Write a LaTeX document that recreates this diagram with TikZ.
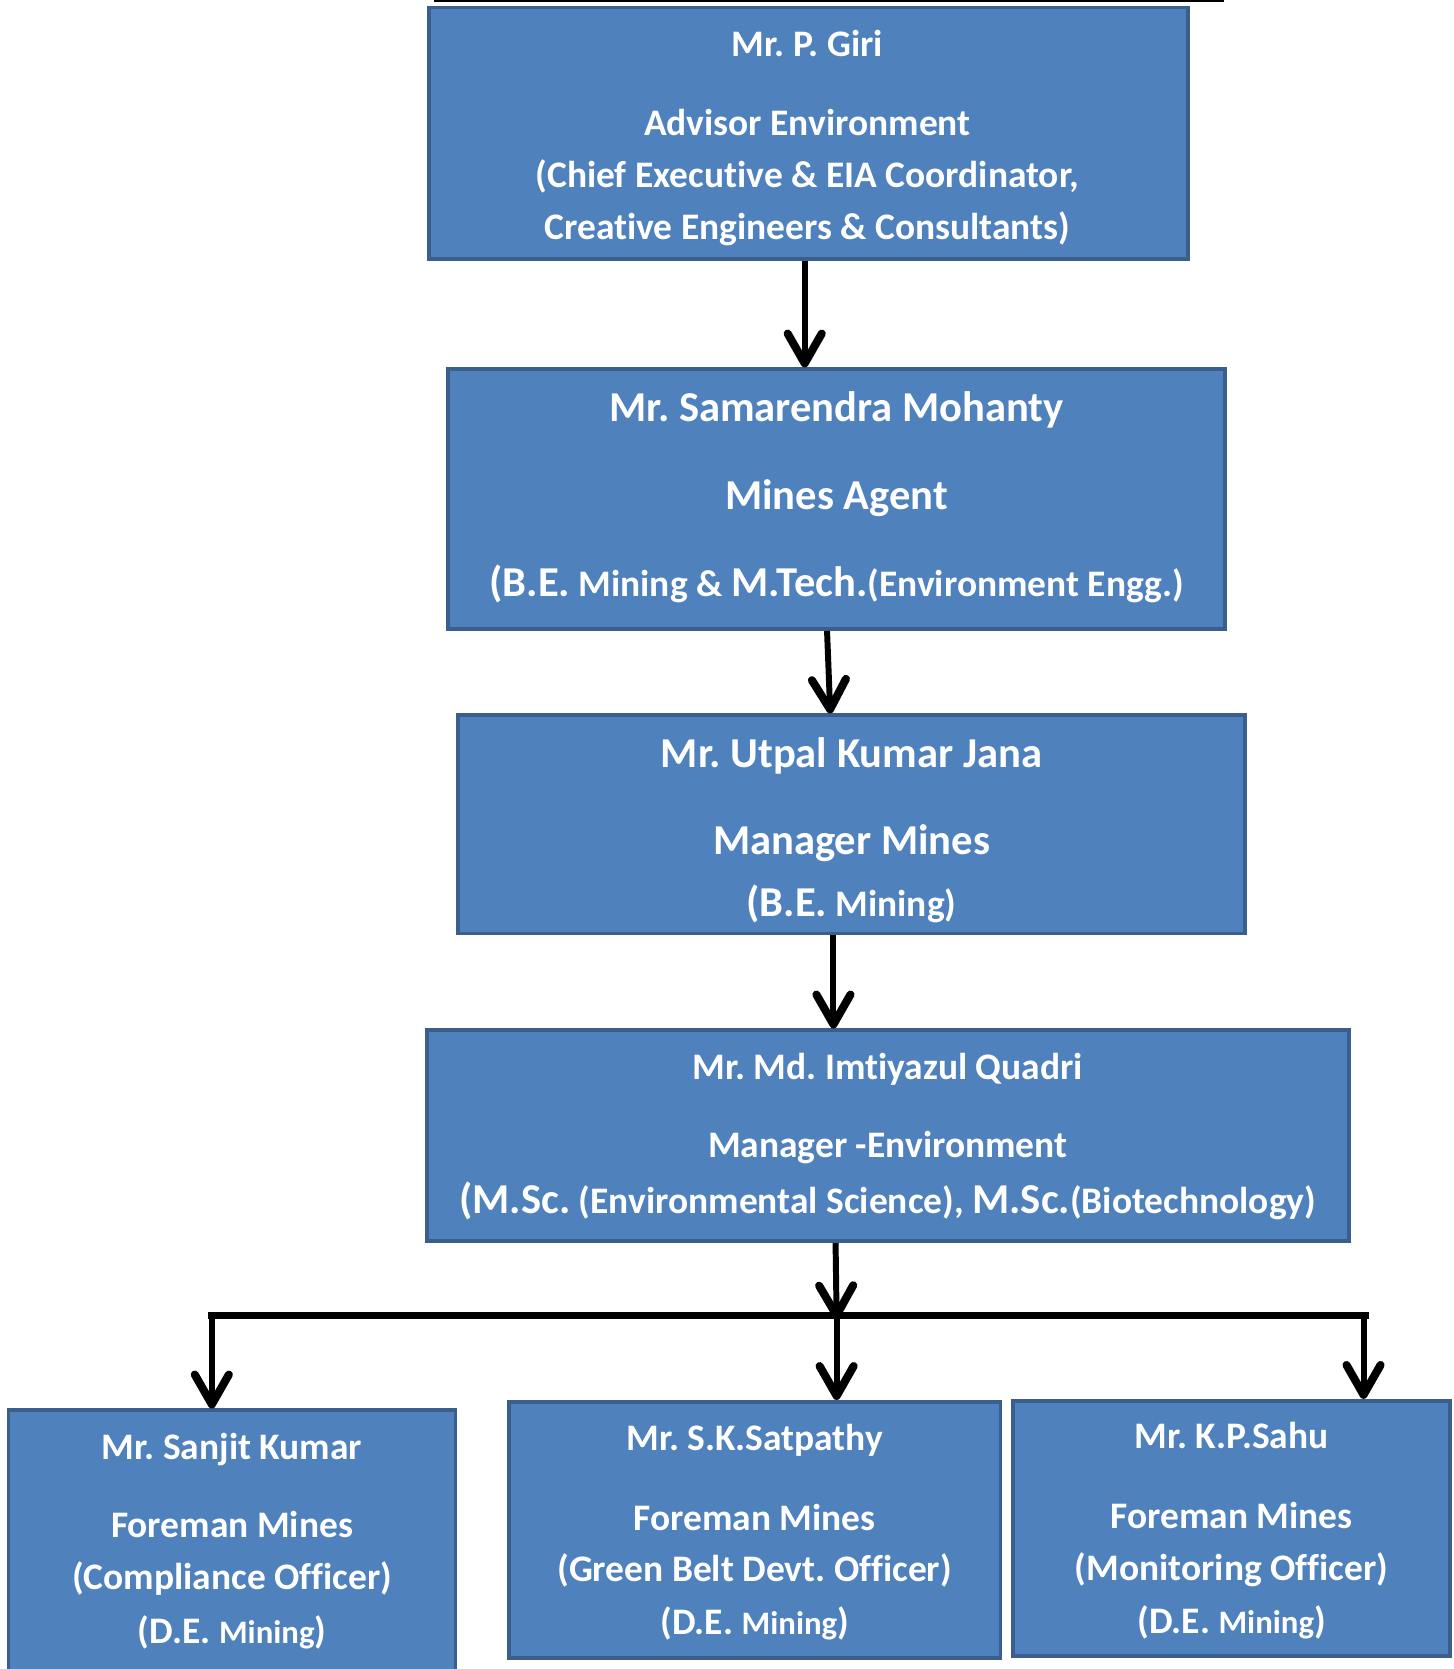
\documentclass[tikz,border=0pt]{standalone}
\usepackage{fontspec}
\setmainfont{Carlito}[Ligatures=NoCommon]
\usetikzlibrary{arrows.meta}
\definecolor{boxfill}{HTML}{4F81BD}
\definecolor{boxline}{HTML}{3A5F8C}
\newcommand{\szL}{\fontsize{20}{23}\selectfont}
\newcommand{\szM}{\fontsize{17.6}{21}\selectfont}
\newcommand{\szS}{\fontsize{15.4}{18}\selectfont}
\frenchspacing
\begin{document}
\begin{tikzpicture}[x=0.5pt,y=-0.5pt,
  box/.style={draw=boxline, fill=boxfill, line width=1.8pt, rectangle, inner sep=0pt},
  txt/.style={text=white, font=\bfseries\szM, anchor=base, inner sep=0pt},
  txtL/.style={txt, font=\bfseries\szL},
  arr/.style={line width=2.8pt, -{Straight Barb[length=14pt,width=16pt,line width=3.8pt,round]}},
  bar/.style={line width=3.5pt, line cap=rect}
]
\useasboundingbox (0,0) rectangle (1366,1568);
\fill[white] (0,0) rectangle (1366,1568);

% top stray line
\coordinate (tlL) at (408,1);
\coordinate (tlR) at (1150,1);
\draw[line width=1.2pt] (tlL) -- (tlR);

% boxes
\node[box, minimum width=356.5pt, minimum height=118pt] (b1) at (759.5,125) {};
\node[box, minimum width=365pt, minimum height=122pt] (b2) at (786,469) {};
\node[box, minimum width=370pt, minimum height=102.5pt] (b3) at (800,774.5) {};
\node[box, minimum width=433pt, minimum height=99pt] (b4) at (834,1067) {};
\node[box, minimum width=210pt, minimum height=137.5pt] (b5) at (218,1462.5) {};
\node[box, minimum width=231pt, minimum height=120.5pt] (b6) at (709,1437.5) {};
\node[box, minimum width=205pt, minimum height=120pt] (b7) at (1157,1436) {};

% box 1 text
\node[txt] (t1a) at (758.5,53) {Mr. P. Giri};
\node[txt] (t1b) at (758.5,127) {Advisor Environment};
\node[txt] (t1c) at (758.5,176) {(Chief Executive \& EIA Coordinator,};
\node[txt] (t1d) at (758.5,225) {Creative Engineers \& Consultants)};

% box 2 text
\node[txtL] (t2a) at (786,396) {Mr. Samarendra Mohanty};
\node[txtL] (t2b) at (786,479) {Mines Agent};
\node[txt] (t2c) at (786,560) {{\szL(B.E.} Mining \& {\szL M.Tech.}(Environment Engg.)};

% box 3 text
\node[txtL] (t3a) at (800,721) {Mr. Utpal Kumar Jana};
\node[txtL] (t3b) at (800,803) {Manager Mines};
\node[txt] (t3c) at (800,861) {{\szL(B.E.} Mining)};

% box 4 text
\node[txt] (t4a) at (834,1014) {Mr. Md. Imtiyazul Quadri};
\node[txt] (t4b) at (834,1087) {Manager -Environment};
\node[txt] (t4c) at (834,1140) {{\szL(M.Sc.} (Environmental Science), {\szL M.Sc.}(Biotechnology)};

% box 5 text
\node[txt] (t5a) at (218,1371) {Mr. Sanjit Kumar};
\node[txt] (t5b) at (218,1444) {Foreman Mines};
\node[txt] (t5c) at (218,1493) {(Compliance Officer)};
\node[txt] (t5d) at (218,1544) {(D.E. {\szS Mining})};

% box 6 text
\node[txt] (t6a) at (709,1363) {Mr. S.K.Satpathy};
\node[txt] (t6b) at (709,1438) {Foreman Mines};
\node[txt] (t6c) at (709,1486) {(Green Belt Devt. Officer)};
\node[txt] (t6d) at (709,1536) {(D.E. {\szS Mining})};

% box 7 text
\node[txt] (t7a) at (1157,1361) {Mr. K.P.Sahu};
\node[txt] (t7b) at (1157,1436) {Foreman Mines};
\node[txt] (t7c) at (1157,1485) {(Monitoring Officer)};
\node[txt] (t7d) at (1157,1535) {(D.E. {\szS Mining})};

% connectors
\coordinate (a1) at (756,0);
\coordinate (a2t) at (777,0);
\coordinate (a2b) at (780,0);
\coordinate (a3) at (783,0);
\coordinate (a4) at (785,0);
\coordinate (barL) at (199,1236);
\coordinate (barM) at (786,1236);
\coordinate (barR) at (1281,1236);
\coordinate (barE) at (1283,1236);

\draw[arr] (b1.south -| a1) -- (b2.north -| a1);
\draw[arr] (b2.south -| a2t) -- (b3.north -| a2b);
\draw[arr] (b3.south -| a3) -- (b4.north -| a3);
\draw[arr] (b4.south -| a4) -- ([yshift=-1.75pt]barM);
\draw[bar] (barL) -- (barE);
\draw[arr] (barL) -- (b5.north -| barL);
\draw[arr] (barM) -- (b6.north -| barM);
\draw[arr] (barR) -- (b7.north -| barR);
\end{tikzpicture}
\end{document}
